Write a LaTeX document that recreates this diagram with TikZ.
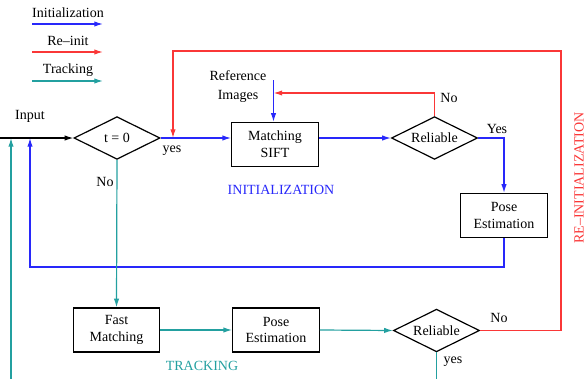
\documentclass[tikz,border=0pt]{standalone}
\usepackage{fontspec}
\setmainfont{Liberation Serif}
\usetikzlibrary{shapes.geometric,arrows.meta}
\definecolor{initblue}{RGB}{40,40,250}
\definecolor{reinitred}{RGB}{250,55,55}
\definecolor{trackteal}{RGB}{35,160,160}

\begin{document}
\begin{tikzpicture}[x=0.75pt, y=-0.75pt,
    every node/.style={font=\fontsize{10.5}{12.6}\selectfont},
    stepbox/.style={draw, line width=0.9pt, minimum width=65pt, minimum height=33pt, align=center, inner sep=1pt},
    testbox/.style={draw, diamond, line width=0.9pt, minimum width=64.5pt, minimum height=32pt, inner sep=0pt, aspect=2},
    flow/.style={line width=0.9pt, -{Latex[length=6.5pt,width=4pt]}},
    initline/.style={flow, initblue},
    reinitline/.style={flow, reinitred},
    trackline/.style={flow, trackteal}]
    \useasboundingbox (0,0) rectangle (587,379);

    % Draw the legend
    \foreach \name/\col/\txt/\y in {init/initblue/Initialization/24, reinit/reinitred/Re--init/52, track/trackteal/Tracking/81}{
        \node (\name legend) at (68,\y-11) {\txt};
        \coordinate (\name legstart) at (32,\y);
        \coordinate (\name legend end) at (103,\y);
        \draw[flow, \col] (\name legstart) -- (\name legend end);
    }

    % Draw the initialization blocks
    \node[testbox] (t0) at (117,138) {t = 0};
    \node[stepbox] (sift) at (275,144.5) {Matching\\SIFT};
    \node[testbox] (rel1) at (434.5,138) {Reliable};
    \node[stepbox] (pose1) at (504,215.5) {Pose\\Estimation};

    % Draw the tracking blocks
    \node[stepbox] (fast) at (116.5,330) {Fast\\Matching};
    \node[stepbox] (pose2) at (276,330) {Pose\\Estimation};
    \node[testbox] (rel2) at (436.5,330.5) {Reliable};

    % Free ends of the connectors
    \coordinate (in) at (0,138);
    \coordinate (refimg) at (273.5,80);
    \coordinate (refjoin) at (273.5,93);
    \coordinate (initback) at (30,267);
    \coordinate (reinitcorner) at (561,51);
    \coordinate (reinitdrop) at (173,51);
    \coordinate (trackend) at (436.5,379);
    \coordinate (trackback) at (11,379);

    % Initialization path
    \draw[flow] (in) -- (t0.west);
    \draw[initline] (t0.east) -- (t0.east -| sift.west);
    \draw[initline] (refimg) -- (refimg |- sift.north);
    \draw[initline] (sift.east |- rel1.west) -- (rel1.west);
    \draw[reinitline] (rel1.north) |- (refjoin);
    \draw[initline] (rel1.east) -| (pose1.north);
    \draw[initline] (pose1.south) |- (initback) -- (initback |- in);

    % Tracking path
    \draw[trackline] (t0.south) -- (fast.north);
    \draw[trackline] (fast.east) -- (pose2.west);
    \draw[trackline] (pose2.east) -- (rel2.west);
    \draw[trackline, -] (rel2.south) -- (trackend);
    \draw[trackline] (trackback) -- (trackback |- in);

    % Re-initialization path
    \draw[reinitline] (rel2.east) -| (reinitcorner) -- (reinitdrop) -- (reinitdrop |- t0.east);

    % Labels
    \node (inputlabel) at (30,116) {Input};
    \node (yes0) at (172,151) {yes};
    \node (no0) at (105,182) {No};
    \node[align=center] (reflabel) at (238,86.5) {Reference\\[1.5pt]Images};
    \node (no1) at (449,98) {No};
    \node (yes1) at (497,129) {Yes};
    \node (no2) at (499,318) {No};
    \node (yes2) at (453,362) {yes};
    \node[initblue] (initlabel) at (281,190) {INITIALIZATION};
    \node[trackteal] (tracklabel) at (202,366) {TRACKING};
    \node[reinitred, rotate=90, inner sep=1pt] (reinitlabel) at (579,178) {RE--INITIALIZATION};

\end{tikzpicture}
\end{document}
